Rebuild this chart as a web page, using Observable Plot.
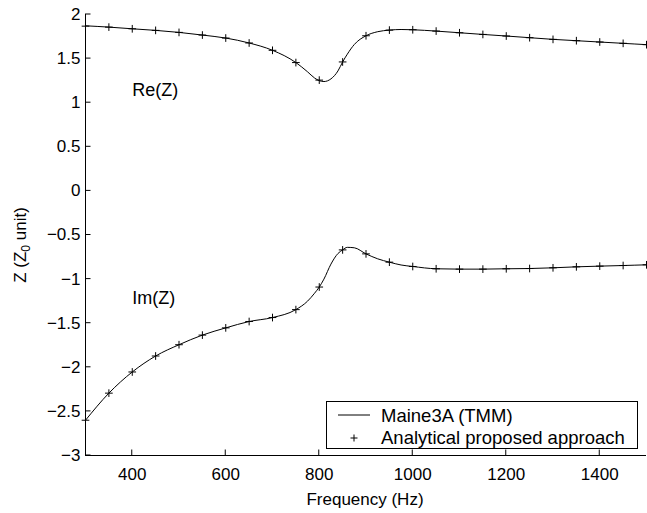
<!DOCTYPE html>
<html><head><meta charset="utf-8">
<script src="https://cdn.jsdelivr.net/npm/d3@7"></script>
<script src="https://cdn.jsdelivr.net/npm/@observablehq/plot@0.6"></script>
<style>
body{margin:0;background:#fff}
#chart{position:relative;width:647px}
svg{font-family:"Liberation Sans",Arial,Helvetica,sans-serif}
</style>
</head><body><div id="chart"></div>
<script>
// Markers ("Analytical proposed approach"), every 50 Hz
const markerFreq = [300,350,400,450,500,550,600,650,700,750,800,850,900,950,1000,1050,1100,1150,1200,1250,1300,1350,1400,1450,1500];
const reMarkers = [1.868,1.857,1.838,1.820,1.797,1.767,1.733,1.677,1.594,1.455,1.256,1.462,1.759,1.823,1.827,1.812,1.793,1.774,1.756,1.737,1.718,1.703,1.688,1.673,1.658];
const imMarkers = [-2.600,-2.293,-2.053,-1.872,-1.744,-1.635,-1.553,-1.481,-1.436,-1.346,-1.090,-0.669,-0.714,-0.808,-0.857,-0.883,-0.887,-0.887,-0.883,-0.880,-0.872,-0.861,-0.853,-0.846,-0.838];
// Continuous line ("Maine3A (TMM)")
const lineFreq = [300,350,400,450,500,550,600,650,700,750,775,790,800,810,825,840,850,860,875,900,925,950,975,1000,1050,1100,1150,1200,1250,1300,1350,1400,1450,1500];
const reLine = [1.872,1.857,1.838,1.820,1.797,1.767,1.733,1.677,1.594,1.455,1.35,1.28,1.25,1.24,1.27,1.36,1.462,1.55,1.66,1.759,1.805,1.823,1.83,1.827,1.812,1.793,1.774,1.756,1.737,1.718,1.703,1.688,1.673,1.658];
const imLine = [-2.600,-2.293,-2.053,-1.872,-1.744,-1.635,-1.553,-1.481,-1.436,-1.346,-1.25,-1.16,-1.09,-1.0,-0.83,-0.71,-0.669,-0.64,-0.645,-0.714,-0.77,-0.808,-0.84,-0.857,-0.883,-0.887,-0.887,-0.883,-0.880,-0.872,-0.861,-0.853,-0.846,-0.838];

const xTicks = [400,600,800,1000,1200,1400];
const yTicks = [-3,-2.5,-2,-1.5,-1,-0.5,0,0.5,1,1.5,2];
const curveLabels = ["Re(Z)","Im(Z)"];
const curveLabelX = [400,400];
const curveLabelY = [1.147,-1.217];
const legendLabels = ["Maine3A (TMM)","Analytical proposed approach"];
const xLabel = "Frequency (Hz)";

const lineRe = lineFreq.map((f,i)=>({f, v: reLine[i]}));
const lineIm = lineFreq.map((f,i)=>({f, v: imLine[i]}));
const markRe = markerFreq.map((f,i)=>({f, v: reMarkers[i]}));
const markIm = markerFreq.map((f,i)=>({f, v: imMarkers[i]}));
const labels = curveLabels.map((t,i)=>({t, f: curveLabelX[i], v: curveLabelY[i]}));

const fmt = d => d < 0 ? "\u2212" + Math.abs(d) : String(d);

const plot = Plot.plot({
  width: 647, height: 513,
  marginTop: 14, marginRight: 1, marginBottom: 58, marginLeft: 85,
  style: {fontSize: "17px", fontFamily: '"Liberation Sans",Arial,Helvetica,sans-serif', color: "#000", background: "#fff"},
  x: {domain: [300,1500]},
  y: {domain: [-3,2]},
  marks: [
    Plot.ruleX([300], {stroke: "#000"}),
    Plot.ruleY([-3], {stroke: "#000"}),
    Plot.axisX({ticks: xTicks, tickSize: 0, tickPadding: 12, tickFormat: fmt, label: null}),
    Plot.axisY({ticks: yTicks, tickSize: 0, tickPadding: 5, tickFormat: fmt, label: null}),
    Plot.line(lineRe, {x: "f", y: "v", stroke: "#000", strokeWidth: 1, curve: "monotone-x"}),
    Plot.line(lineIm, {x: "f", y: "v", stroke: "#000", strokeWidth: 1, curve: "monotone-x"}),
    Plot.dot(markRe, {x: "f", y: "v", symbol: "plus", r: 2.6, stroke: "#000", strokeWidth: 1}),
    Plot.dot(markIm, {x: "f", y: "v", symbol: "plus", r: 2.6, stroke: "#000", strokeWidth: 1}),
    Plot.text(labels, {x: "f", y: "v", text: "t", textAnchor: "start", fill: "#000", fontSize: 18})
  ]
});
document.getElementById("chart").appendChild(plot);

const svg = d3.select(plot);
const sx = plot.scale("x"), sy = plot.scale("y");
// inward ticks (MATLAB style), positioned through Plot's own scales
const tk = svg.append("g").attr("stroke","#000");
xTicks.forEach(t => {
  const px = sx.apply(t), py = sy.apply(-3);
  tk.append("line").attr("x1",px).attr("x2",px).attr("y1",py).attr("y2",py-5.5);
});
yTicks.forEach(t => {
  const px = sx.apply(300), py = sy.apply(t);
  tk.append("line").attr("x1",px).attr("x2",px+5.5).attr("y1",py).attr("y2",py);
});
// axis titles
svg.append("text").attr("x", 365).attr("y", 505).attr("text-anchor","middle")
  .attr("font-size", 17).attr("fill","#000").text(xLabel);
const yl = svg.append("text").attr("transform","translate(26,245) rotate(-90)")
  .attr("text-anchor","middle").attr("font-size",17).attr("fill","#000");
yl.append("tspan").text("Z (Z");
yl.append("tspan").attr("font-size",12).attr("baseline-shift","-4").text("0");
yl.append("tspan").text(" unit)");

// legend
const lg = svg.append("g");
lg.append("rect").attr("x",326.5).attr("y",401.5).attr("width",311).attr("height",47)
  .attr("fill","#fff").attr("stroke","#000");
lg.append("line").attr("x1",338).attr("x2",370).attr("y1",415).attr("y2",415).attr("stroke","#000");
lg.append("path").attr("d","M-3.5,0H3.5M0,-3.5V3.5").attr("transform","translate(354,438)").attr("stroke","#000").attr("fill","none");
legendLabels.forEach((t,i)=>{
  lg.append("text").attr("x",381).attr("y",421.5+i*22.5).attr("text-anchor","start")
    .attr("font-size",18.5).attr("fill","#000").text(t);
});
</script>
</body></html>
